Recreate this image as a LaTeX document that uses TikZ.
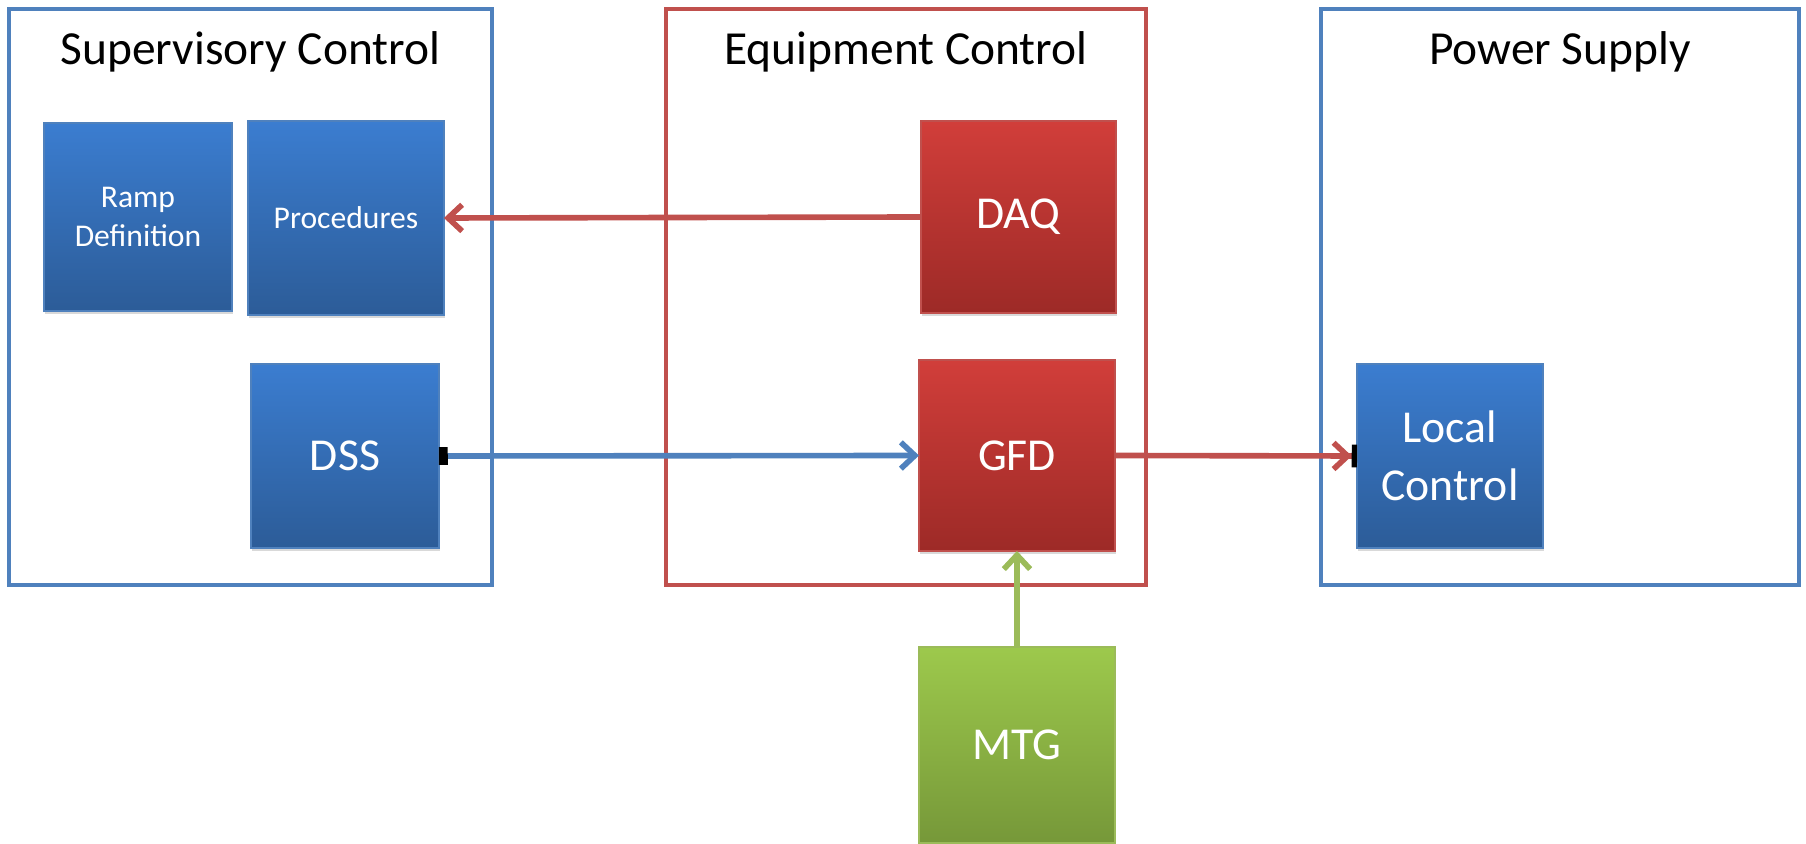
\documentclass[tikz,border=0pt]{standalone}
\usepackage{fontspec}
\setmainfont{Carlito}
\usetikzlibrary{arrows.meta,shadows}
\definecolor{frameblue}{HTML}{4F81BD}
\definecolor{framered}{HTML}{C0504D}
\definecolor{linegreen}{HTML}{9BBB59}
\definecolor{bluetop}{HTML}{3B7DD0}
\definecolor{bluebot}{HTML}{2C5C98}
\definecolor{redtop}{HTML}{D13E3A}
\definecolor{redbot}{HTML}{9D2A27}
\definecolor{greentop}{HTML}{9DC94C}
\definecolor{greenbot}{HTML}{769839}

\begin{document}
\begin{tikzpicture}[x=0.02cm, y=-0.02cm,
      area/.style={draw, line width=2.3pt, anchor=north west, inner sep=0pt, outer sep=0pt},
      title/.style={font=\fontsize{27}{32}\selectfont, anchor=center},
      unit/.style={anchor=north west, line width=0.8pt, inner sep=0pt, outer sep=0pt,
                   text=white, align=center, font=\fontsize{26}{33}\selectfont,
                   drop shadow={opacity=0.3, shadow xshift=0.6pt, shadow yshift=-1.6pt}},
      small/.style={font=\fontsize{18}{22}\selectfont},
      bluebox/.style={unit, top color=bluetop, bottom color=bluebot, draw=frameblue},
      redbox/.style={unit, top color=redtop, bottom color=redbot, draw=framered},
      greenbox/.style={unit, top color=greentop, bottom color=greenbot, draw=linegreen},
      link/.style={line width=3.2pt, -{Straight Barb[length=8pt,width=15pt]}}
    ]
      \useasboundingbox (0,0) rectangle (1806,843);

      % areas
      \node[area, draw=frameblue, minimum width=9.66cm, minimum height=11.52cm] (sup) at (9,9) {};
      \node[title] at ([yshift=-0.86cm]sup.north) {Supervisory Control};

      \node[area, draw=framered, minimum width=9.6cm, minimum height=11.52cm] (equ) at (666,9) {};
      \node[title] at ([yshift=-0.86cm]equ.north) {Equipment Control};

      \node[area, draw=frameblue, minimum width=9.56cm, minimum height=11.52cm] (pow) at (1321,9) {};
      \node[title] at ([yshift=-0.86cm]pow.north) {Power Supply};

      % units
      \node[bluebox, small, minimum width=3.76cm, minimum height=3.76cm] (ramp) at (44,123) {Ramp\\Definition};
      \node[bluebox, small, minimum width=3.92cm, minimum height=3.88cm] (proc) at (248,121) {Procedures};
      \node[bluebox, minimum width=3.76cm, minimum height=3.68cm] (dss) at (251,364) {DSS};

      \node[redbox, minimum width=3.9cm, minimum height=3.84cm] (daq) at (921,121) {DAQ};
      \node[redbox, minimum width=3.92cm, minimum height=3.82cm] (gfd) at (919,360) {GFD};
      \node[greenbox, minimum width=3.92cm, minimum height=3.92cm] (mtg) at (919,647) {MTG};

      \node[bluebox, minimum width=3.72cm, minimum height=3.68cm] (lc) at (1357,364) {Local\\Control};

      % links
      \draw[link, framered] (daq.west) -- (proc.east);
      \draw[link, frameblue, {Square[black,length=5pt,width=10pt]}-{Straight Barb[length=8pt,width=15pt]}] (dss.east) -- (gfd.west);
      \draw[link, framered, -{Straight Barb[length=8pt,width=15pt] Square[black,length=3pt,width=13pt]}] (gfd.east) -- (lc.west);
      \draw[link, linegreen] (mtg.north) -- (gfd.south);
    \end{tikzpicture}
\end{document}
